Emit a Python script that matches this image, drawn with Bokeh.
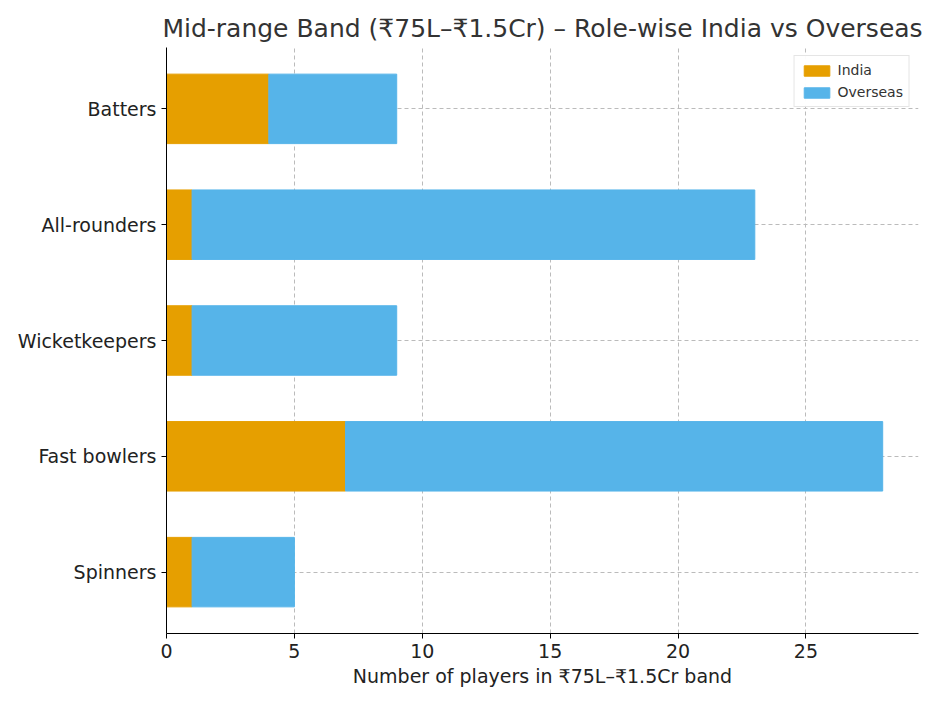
from bokeh.plotting import figure
from bokeh.models import ColumnDataSource, Legend, LegendItem, Range1d, FixedTicker
from bokeh.embed import file_html
from bokeh.resources import INLINE

roles = ["Batters", "All-rounders", "Wicketkeepers", "Fast bowlers", "Spinners"]
india = [4, 1, 1, 7, 1]
overseas = [5, 22, 8, 21, 4]

ypos = [len(roles) - 1 - i for i in range(len(roles))]
tot = [a + b for a, b in zip(india, overseas)]
src = ColumnDataSource(dict(y=ypos, india=india, tot=tot, zero=[0]*len(roles)))

p = figure(width=936, height=694, output_backend="svg", toolbar_location=None,
           x_range=Range1d(0, 29.4), y_range=Range1d(-0.53, 4.53),
           min_border_left=166, min_border_right=18, min_border_top=47, min_border_bottom=61)
p.title.text = "Mid-range Band (₹75L–₹1.5Cr) – Role-wise India vs Overseas"
p.title.align = "center"
p.title.text_font_size = "25px"
p.title.text_font_style = "normal"
p.title.text_font = "DejaVu Sans"
p.title.text_color = "#333333"
p.title.offset = -4

r1 = p.hbar(y="y", left="zero", right="india", height=0.6, color="#E69F00", source=src)
r2 = p.hbar(y="y", left="india", right="tot", height=0.6, color="#56B4E9", source=src)

p.yaxis.ticker = FixedTicker(ticks=ypos)
p.yaxis.major_label_overrides = {y: r for y, r in zip(ypos, roles)}
p.xaxis.ticker = FixedTicker(ticks=[0, 5, 10, 15, 20, 25])
p.xaxis.axis_label = "Number of players in ₹75L–₹1.5Cr band"
for ax in (p.xaxis, p.yaxis):
    ax.major_label_text_font_size = "19px"
    ax.major_label_text_color = "#222222"
    ax.major_label_text_font = "DejaVu Sans"
    ax.axis_label_text_font = "DejaVu Sans"
    ax.axis_label_text_font_size = "19px"
    ax.axis_label_text_color = "#222222"
    ax.axis_label_text_font_style = "normal"
    ax.minor_tick_line_color = None
    ax.axis_line_color = "black"
    ax.major_tick_out = 5
    ax.major_tick_in = 0
p.xaxis.axis_label_standoff = 4
p.grid.grid_line_dash = "4 3"
p.grid.grid_line_color = "#bbbbbb"
p.outline_line_color = None

leg = Legend(items=[LegendItem(label="India", renderers=[r1]),
                    LegendItem(label="Overseas", renderers=[r2])],
             location="top_right", label_text_font_size="14px", label_text_font="DejaVu Sans",
             label_text_color="#333333",
             border_line_color="#cccccc", glyph_height=13, glyph_width=32,
             spacing=6, padding=6, margin=8, label_height=16)
p.add_layout(leg)

open("out.html", "w").write(file_html(p, INLINE))
